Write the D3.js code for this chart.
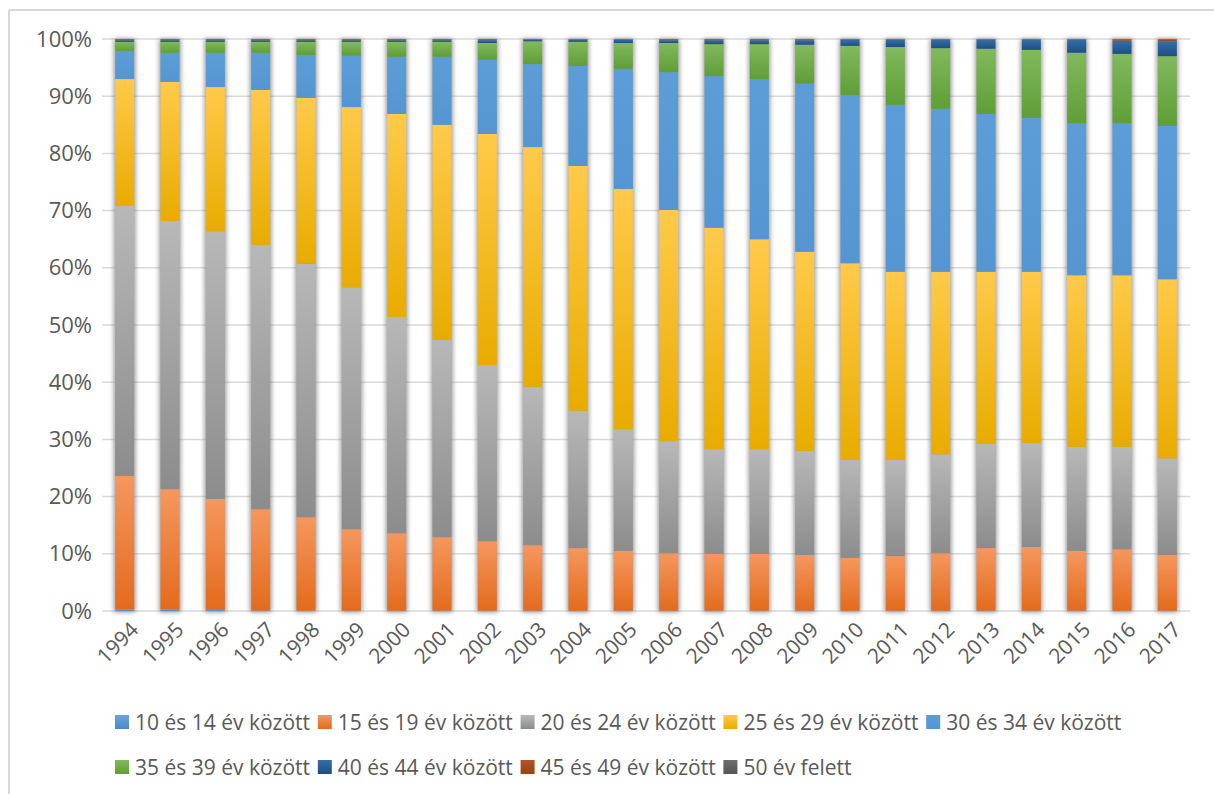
<!DOCTYPE html>
<html>
<head>
<meta charset="utf-8">
<script src="https://cdn.jsdelivr.net/npm/d3@7"></script>
<style>
  body { margin: 0; background: #fff; }
  svg { display: block; font-family: "Open Sans", sans-serif; }
  .tick-label { fill: #595959; font-size: 22px; }
  .year-label { fill: #595959; font-size: 21px; }
  .legend-label { fill: #595959; font-size: 21px; }
</style>
</head>
<body>
<svg width="1214" height="794"></svg>
<script>
// years on the x axis
const years = ["1994","1995","1996","1997","1998","1999","2000","2001","2002","2003","2004","2005",
  "2006","2007","2008","2009","2010","2011","2012","2013","2014","2015","2016","2017"];

// share of each age group per year (%)
const age10_14 = [0.3,0.3,0.2,0.05,0.05,0.05,0.05,0.05,0.05,0.05,0.05,0.05,0.05,0.05,0.05,0.05,0.05,0.05,0.05,0.05,0.05,0.05,0.05,0.05];
const age15_19 = [23.3,21.0,19.4,17.75,16.35,14.25,13.55,12.85,12.15,11.45,10.95,10.45,10.05,9.95,9.95,9.75,9.25,9.55,10.05,10.95,11.15,10.45,10.75,9.75];
const age20_24 = [47.2,46.9,46.8,46.2,44.3,42.3,37.8,34.5,30.8,27.7,24.0,21.3,19.6,18.3,18.3,18.2,17.1,16.8,17.3,18.2,18.2,18.2,17.9,16.9];
const age25_29 = [22.2,24.3,25.2,27.1,29.0,31.5,35.5,37.6,40.4,41.9,42.8,42.0,40.4,38.7,36.7,34.8,34.4,32.9,31.9,30.1,29.9,30.0,30.0,31.3];
const age30_34 = [4.9,5.1,6.0,6.5,7.5,9.0,10.0,11.9,13.0,14.5,17.5,21.0,24.1,26.5,28.0,29.4,29.4,29.2,28.5,27.6,26.9,26.6,26.6,26.8];
const age35_39 = [1.6,1.9,1.9,1.9,2.3,2.4,2.6,2.6,2.9,4.0,4.2,4.5,5.1,5.6,6.1,6.8,8.6,10.1,10.6,11.4,11.9,12.3,12.1,12.2];
const age40_44 = [0.3,0.3,0.3,0.3,0.3,0.3,0.3,0.3,0.5,0.3,0.4,0.6,0.5,0.7,0.7,0.8,1.1,1.3,1.5,1.6,1.8,2.3,2.3,2.6];
const age45_49 = [0.15,0.15,0.15,0.15,0.15,0.15,0.15,0.15,0.15,0.05,0.05,0.05,0.15,0.15,0.15,0.15,0.05,0.05,0.05,0.05,0.05,0.05,0.25,0.35];
const age50 = [0.05,0.05,0.05,0.05,0.05,0.05,0.05,0.05,0.05,0.05,0.05,0.05,0.05,0.05,0.05,0.05,0.05,0.05,0.05,0.05,0.05,0.05,0.05,0.05];

const seriesNames = ["10 és 14 év között","15 és 19 év között","20 és 24 év között","25 és 29 év között",
  "30 és 34 év között","35 és 39 év között","40 és 44 év között","45 és 49 év között","50 év felett"];
const seriesValues = [age10_14, age15_19, age20_24, age25_29, age30_34, age35_39, age40_44, age45_49, age50];

const yTicks = [0, 0.1, 0.2, 0.3, 0.4, 0.5, 0.6, 0.7, 0.8, 0.9, 1];

// [top, bottom] gradient colours per series
const colors = [
  ["#6aa6dd", "#4a8ac8"],
  ["#f5975e", "#e36b1d"],
  ["#b8b8b8", "#8c8c8c"],
  ["#ffca4a", "#e8ac00"],
  ["#5d9dd7", "#5596d2"],
  ["#82b95e", "#5f9e36"],
  ["#336fa8", "#1f4f80"],
  ["#b0562a", "#9a420c"],
  ["#6e6e6e", "#555555"]
];

const svg = d3.select("svg");
const plotLeft = 102, plotRight = 1190, plotTop = 39, plotBottom = 611;

const table = years.map((y, i) => {
  const row = { year: y };
  seriesNames.forEach((s, j) => row[s] = seriesValues[j][i]);
  return row;
});

const defs = svg.append("defs");
colors.forEach((c, i) => {
  const g = defs.append("linearGradient")
    .attr("id", "grad" + i)
    .attr("x1", 0).attr("y1", 0).attr("x2", 0).attr("y2", 1);
  g.append("stop").attr("offset", "0%").attr("stop-color", c[0]);
  g.append("stop").attr("offset", "100%").attr("stop-color", c[1]);
});
defs.append("filter").attr("id", "shadow")
  .attr("x", "-50%").attr("y", "-10%").attr("width", "200%").attr("height", "120%")
  .append("feGaussianBlur").attr("stdDeviation", 2.5);

// chart frame (left and top edges only visible)
svg.append("line").attr("x1", 9).attr("x2", 9).attr("y1", 10).attr("y2", 794)
  .attr("stroke", "#d9d9d9").attr("stroke-width", 2);
svg.append("line").attr("x1", 9).attr("x2", 1214).attr("y1", 10).attr("y2", 10)
  .attr("stroke", "#d9d9d9").attr("stroke-width", 2);

const xScale = d3.scaleBand()
  .domain(years)
  .range([plotLeft, plotRight])
  .paddingInner(0.58)
  .paddingOuter(0.29);

const yScale = d3.scaleLinear()
  .domain([0, 1])
  .range([plotBottom, plotTop]);

// gridlines with a soft shadow
const grid = svg.append("g");
grid.selectAll(".gshadow")
  .data(yTicks)
  .enter()
  .append("line")
  .attr("x1", plotLeft).attr("x2", plotRight)
  .attr("y1", d => yScale(d) + 1).attr("y2", d => yScale(d) + 1)
  .attr("stroke", "#b5b5b5").attr("stroke-width", 2.5)
  .attr("filter", "url(#shadow)")
  .attr("opacity", 0.7);
grid.selectAll(".gline")
  .data(yTicks)
  .enter()
  .append("line")
  .attr("x1", plotLeft).attr("x2", plotRight)
  .attr("y1", d => yScale(d)).attr("y2", d => yScale(d))
  .attr("stroke", "#d9d9d9").attr("stroke-width", 1.5);

const yAxis = d3.axisLeft(yScale)
  .tickValues(yTicks)
  .tickFormat(d3.format(".0%"))
  .tickSize(0)
  .tickPadding(10);

svg.append("g")
  .attr("transform", `translate(${plotLeft}, 0)`)
  .call(yAxis)
  .call(g => g.select(".domain").remove())
  .call(g => g.attr("font-family", null).attr("font-size", null))
  .selectAll("text")
  .attr("class", "tick-label");

// bar shadows
svg.append("g")
  .selectAll("rect")
  .data(years)
  .enter()
  .append("rect")
  .attr("x", d => xScale(d) - 1)
  .attr("y", yScale(1))
  .attr("width", xScale.bandwidth() + 2)
  .attr("height", yScale(0) - yScale(1) + 1)
  .attr("fill", "#7a7a7a")
  .attr("opacity", 0.85)
  .attr("filter", "url(#shadow)");

const stack = d3.stack()
  .keys(seriesNames)
  .offset(d3.stackOffsetExpand);

const layers = stack(table);

svg.append("g")
  .selectAll("g")
  .data(layers)
  .enter()
  .append("g")
  .attr("fill", (d, i) => `url(#grad${i})`)
  .selectAll("rect")
  .data(d => d)
  .enter()
  .append("rect")
  .attr("x", d => xScale(d.data.year))
  .attr("y", d => yScale(d[1]))
  .attr("width", xScale.bandwidth())
  .attr("height", d => yScale(d[0]) - yScale(d[1]));

// rotated year labels
const xAxis = d3.axisBottom(xScale).tickSize(0).tickPadding(0);
svg.append("g")
  .attr("transform", `translate(0, ${plotBottom})`)
  .call(xAxis)
  .call(g => g.select(".domain").remove())
  .call(g => g.attr("font-family", null).attr("font-size", null))
  .selectAll("text")
  .attr("class", "year-label")
  .attr("text-anchor", "end")
  .attr("dy", null)
  .attr("y", 0)
  .attr("transform", "translate(15, 20) rotate(-45)");

// legend
const legend = svg.append("g")
  .selectAll("g")
  .data(seriesNames)
  .enter()
  .append("g")
  .attr("transform", (d, i) => `translate(${115 + (i % 5) * 202.8}, ${i < 5 ? 715 : 760})`);

legend.append("rect")
  .attr("width", 14).attr("height", 14)
  .attr("fill", (d, i) => `url(#grad${i})`);

legend.append("text")
  .attr("class", "legend-label")
  .attr("x", 20)
  .attr("y", 14.5)
  .text(d => d);
</script>
</body>
</html>
